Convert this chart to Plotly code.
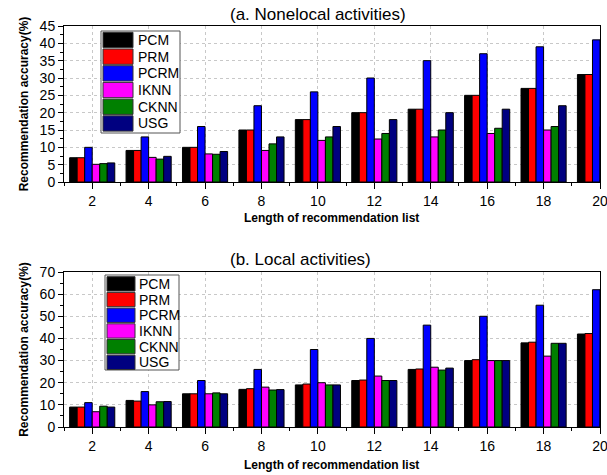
import plotly.graph_objects as go

lengths = [2, 4, 6, 8, 10, 12, 14, 16, 18, 20]
methods = ["PCM", "PRM", "PCRM", "IKNN", "CKNN", "USG"]
colors = ["#000000", "#FF0000", "#0000FF", "#FF00FF", "#008000", "#000080"]

# (a) Nonelocal activities
a_PCM = [7, 9.1, 10, 15, 18, 20, 21, 25, 27, 31]
a_PRM = [7, 9.1, 10, 15, 18, 20, 21, 25, 27, 31]
a_PCRM = [10, 13, 16, 22, 26, 30, 35, 37, 39, 41]
a_IKNN = [5.1, 7.1, 8.1, 9.1, 12, 12.4, 13, 14, 15, 16]
a_CKNN = [5.3, 6.6, 8, 11, 13, 14, 15, 15.5, 16, 17]
a_USG = [5.5, 7.4, 8.8, 13, 16, 18, 20, 21, 22, 23]

# (b) Local activities
b_PCM = [9, 12, 15, 17, 19, 21, 26, 30, 38, 42]
b_PRM = [9, 11.7, 15, 17.3, 19.4, 21.2, 26.2, 30.4, 38.3, 42.2]
b_PCRM = [11, 16, 21, 26, 35, 40, 46, 50, 55, 62]
b_IKNN = [6.9, 10, 15, 18, 20, 23, 27, 30, 32, 34]
b_CKNN = [9.4, 11.4, 15.4, 16.7, 19, 21, 25.7, 30, 37.8, 40]
b_USG = [9, 11.5, 15, 16.9, 19, 21, 26.6, 30, 37.8, 40]

series_a = [a_PCM, a_PRM, a_PCRM, a_IKNN, a_CKNN, a_USG]
series_b = [b_PCM, b_PRM, b_PCRM, b_IKNN, b_CKNN, b_USG]

FONT = "Liberation Sans, Arial, sans-serif"
W, H = 607, 475

fig = go.Figure()
for name, col, vals in zip(methods, colors, series_a):
    fig.add_trace(go.Bar(x=lengths, y=vals, name=name, marker_color=col,
                         marker_line=dict(color="black", width=1),
                         xaxis="x", yaxis="y", offsetgroup=name + "a",
                         showlegend=False))
for name, col, vals in zip(methods, colors, series_b):
    fig.add_trace(go.Bar(x=lengths, y=vals, name=name, marker_color=col,
                         marker_line=dict(color="black", width=1),
                         xaxis="x2", yaxis="y2", offsetgroup=name + "b",
                         showlegend=False))

x0, x1 = 64 / W, 600 / W


def ydom(top, bot):
    return [(H - bot) / H, (H - top) / H]


dom_a = ydom(26, 182)
dom_b = ydom(272, 427)
tickfont = dict(family=FONT, size=14, color="black")
grid = dict(showgrid=True, gridcolor="#c8c8c8", griddash="dot", gridwidth=1)

xcommon = dict(range=[1, 20], tickvals=lengths, ticks="outside", ticklen=6,
               tickwidth=1, tickcolor="black", showline=True, linecolor="black",
               linewidth=1, mirror=True, zeroline=False, automargin=False,
               ticklabeloverflow="allow",
               tickfont=tickfont, domain=[x0, x1],
               minor=dict(dtick=1, tick0=1, ticks="outside", ticklen=3,
                          tickcolor="black", showgrid=False), **grid)
ycommon = dict(ticks="outside", ticklen=5, tickwidth=1, tickcolor="black",
               showline=True, linecolor="black", linewidth=1, mirror=True,
               zeroline=False, automargin=False, tickfont=tickfont,
               title=dict(text="<b>Recommendation accuracy(%)</b>",
                          font=dict(family=FONT, size=12, color="black"),
                          standoff=8), **grid)

shapes = []
annotations = []


def add_legend(box, sw_x, sw_top, pitch, sw_h, text_x):
    bx0, by0, bx1, by1 = box
    shapes.append(dict(type="rect", xref="paper", yref="paper",
                       x0=bx0 / W, x1=bx1 / W, y0=1 - by1 / H, y1=1 - by0 / H,
                       line=dict(color="#555555", width=1), fillcolor="white", layer="above"))
    for i, (name, col) in enumerate(zip(methods, colors)):
        t = sw_top + i * pitch
        shapes.append(dict(type="rect", xref="paper", yref="paper",
                           x0=sw_x[0] / W, x1=sw_x[1] / W,
                           y0=1 - (t + sw_h) / H, y1=1 - t / H,
                           line=dict(color="#333333", width=1), fillcolor=col, layer="above"))
        annotations.append(dict(text=name, x=text_x / W, y=1 - (t + sw_h / 2) / H,
                                xref="paper", yref="paper", xanchor="left", yanchor="middle",
                                showarrow=False, font=dict(family=FONT, size=14, color="black")))


add_legend((101, 31, 180, 133), (103, 133), 32.3, 16.7, 15.3, 136)
add_legend((105, 275, 179, 370), (107, 135), 276.7, 15.7, 14.3, 137)


def title_ann(text, x, y, size, bold=False):
    return dict(text=f"<b>{text}</b>" if bold else text, x=x / W, y=1 - y / H,
                xref="paper", yref="paper", xanchor="center", yanchor="middle",
                showarrow=False, font=dict(family=FONT, size=size, color="black"))


annotations += [
    title_ann("(a. Nonelocal activities)", 318, 15, 17),
    title_ann("Length of recommendation list", 331, 218, 12, bold=True),
    title_ann("(b. Local activities)", 300, 259, 17),
    title_ann("Length of recommendation list", 331, 465, 12, bold=True),
]

fig.update_layout(
    width=W, height=H, margin=dict(l=0, r=0, t=0, b=0, autoexpand=False),
    paper_bgcolor="white", plot_bgcolor="white",
    barmode="group", bargap=0.2, bargroupgap=0,
    font=dict(family=FONT, color="black"),
    xaxis=dict(**xcommon, anchor="y"),
    yaxis=dict(**ycommon, range=[0, 45], dtick=5, domain=dom_a, anchor="x",
               minor=dict(dtick=2.5, ticks="outside", ticklen=3, tickcolor="black", showgrid=False)),
    xaxis2=dict(**xcommon, anchor="y2"),
    yaxis2=dict(**ycommon, range=[0, 70], dtick=10, domain=dom_b, anchor="x2",
                minor=dict(dtick=5, ticks="outside", ticklen=3, tickcolor="black", showgrid=False)),
    shapes=shapes,
    annotations=annotations,
)

fig.write_html("out.html", config={"displayModeBar": False},
               post_script="document.body.style.margin='0';document.body.style.overflow='hidden';")
